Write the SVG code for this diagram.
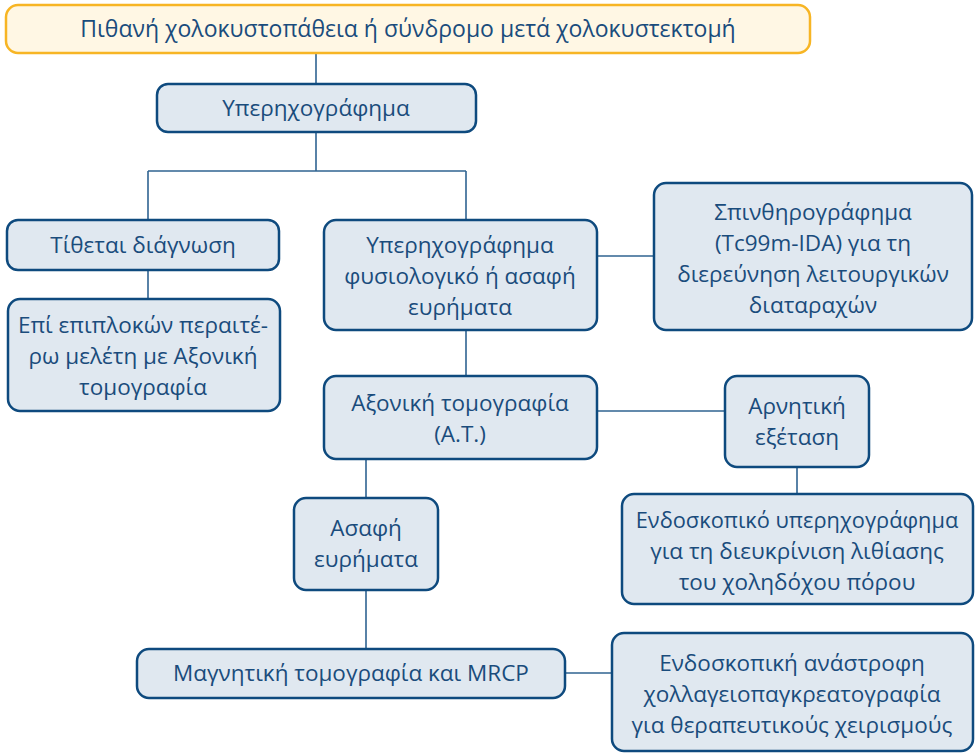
<svg xmlns="http://www.w3.org/2000/svg" width="976" height="754" viewBox="0 0 976 754">
<style>
.n rect{fill:#E0E8F0;stroke:#0E4A7E;stroke-width:2.5}
.t rect{fill:#FFF7E4;stroke:#F7B524;stroke-width:2.5}
text{font-family:"Open Sans","Noto Sans","DejaVu Sans",sans-serif;font-size:22.5px;fill:#1A4C7C;text-anchor:middle}
#connectors line{stroke:#2F6391;stroke-width:1.6}
</style>
<rect width="976" height="754" fill="#fff"/>
<g id="connectors">
<line x1="316" y1="53" x2="316" y2="84"/>
<line x1="316" y1="132" x2="316" y2="171"/>
<line x1="148" y1="171" x2="466" y2="171"/>
<line x1="148" y1="171" x2="148" y2="220"/>
<line x1="466" y1="171" x2="466" y2="220"/>
<line x1="148" y1="270" x2="148" y2="299"/>
<line x1="597" y1="256" x2="655" y2="256"/>
<line x1="466" y1="330" x2="466" y2="376"/>
<line x1="597" y1="411" x2="726" y2="411"/>
<line x1="797" y1="467" x2="797" y2="494"/>
<line x1="366" y1="459" x2="366" y2="498"/>
<line x1="366" y1="590" x2="366" y2="649"/>
<line x1="565" y1="673" x2="613" y2="673"/>
</g>
<g id="n0" class="t"><rect x="6" y="5" width="804" height="48" rx="12"/><text x="408" y="37" style="font-size:23px">Πιθανή χολοκυστοπάθεια ή σύνδρομο μετά χολοκυστεκτομή</text></g>
<g id="n1" class="n"><rect x="157" y="84" width="319" height="48" rx="11"/><text x="316" y="116">Υπερηχογράφημα</text></g>
<g id="n2" class="n"><rect x="7" y="220" width="272" height="50" rx="11"/><text x="143" y="253">Τίθεται διάγνωση</text></g>
<g id="n3" class="n"><rect x="8" y="299" width="272" height="112" rx="12"/><text x="143" y="333">Επί επιπλοκών περαιτέ-</text><text x="143" y="364">ρω μελέτη με Αξονική</text><text x="143" y="395">τομογραφία</text></g>
<g id="n4" class="n"><rect x="324" y="220" width="273" height="110" rx="12"/><text x="460" y="253">Υπερηχογράφημα</text><text x="460" y="284">φυσιολογικό ή ασαφή</text><text x="460" y="315">ευρήματα</text></g>
<g id="n5" class="n"><rect x="654" y="183" width="318" height="147" rx="12"/><text x="813" y="220">Σπινθηρογράφημα</text><text x="813" y="251">(Tc99m-IDA) για τη</text><text x="813" y="282">διερεύνηση λειτουργικών</text><text x="813" y="313">διαταραχών</text></g>
<g id="n6" class="n"><rect x="324" y="376" width="273" height="83" rx="12"/><text x="460" y="411">Αξονική τομογραφία</text><text x="460" y="442">(Α.Τ.)</text></g>
<g id="n7" class="n"><rect x="725" y="376" width="144" height="91" rx="12"/><text x="797" y="414">Αρνητική</text><text x="797" y="445">εξέταση</text></g>
<g id="n8" class="n"><rect x="622" y="494" width="351" height="110" rx="12"/><text x="797" y="528" style="font-size:21.8px">Ενδοσκοπικό υπερηχογράφημα</text><text x="797" y="559">για τη διευκρίνιση λιθίασης</text><text x="797" y="590">του χοληδόχου πόρου</text></g>
<g id="n9" class="n"><rect x="294" y="498" width="144" height="92" rx="12"/><text x="366" y="536">Ασαφή</text><text x="366" y="567">ευρήματα</text></g>
<g id="n10" class="n"><rect x="137" y="649" width="428" height="49" rx="12"/><text x="351" y="681">Μαγνητική τομογραφία και MRCP</text></g>
<g id="n11" class="n"><rect x="612" y="633" width="361" height="118" rx="12"/><text x="792" y="671">Ενδοσκοπική ανάστροφη</text><text x="792" y="702">χολλαγειοπαγκρεατογραφία</text><text x="792" y="733">για θεραπευτικούς χειρισμούς</text></g>
</svg>
